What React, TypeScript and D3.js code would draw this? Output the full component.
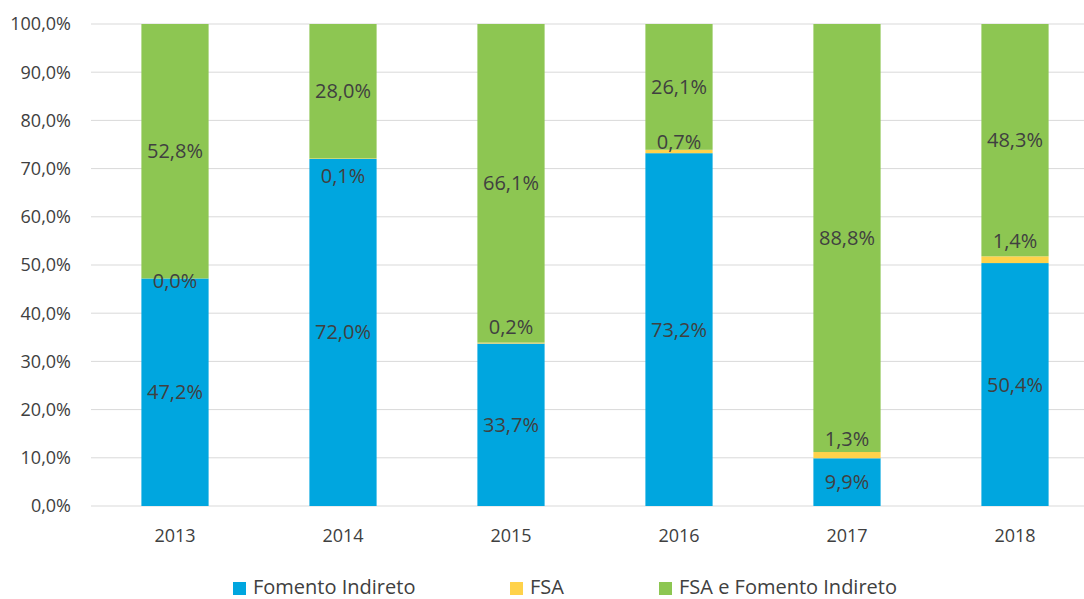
import React from 'react'
import * as d3 from 'd3'

const years = ['2013', '2014', '2015', '2016', '2017', '2018']
const fomentoIndireto = [47.2, 72.0, 33.7, 73.2, 9.9, 50.4]
const fsa = [0.0, 0.1, 0.2, 0.7, 1.3, 1.4]
const fsaEFomento = [52.8, 28.0, 66.1, 26.1, 88.8, 48.3]
const yTicks = [0, 10, 20, 30, 40, 50, 60, 70, 80, 90, 100]

const seriesNames = ['Fomento Indireto', 'FSA', 'FSA e Fomento Indireto']
const colors = ['#00a6df', '#ffd24a', '#8dc652']
// Excel nudged the tiny FSA labels off their segments (px, + is down)
const fsaLabelShift = [3, 17, -16, -9, -16, -19]

const W = 1084
const H = 599
const FONT = "'Open Sans', 'Noto Sans', sans-serif"
const fmt = (v: number) => v.toFixed(1).replace('.', ',') + '%'

export default function App() {
	const x = d3.scaleBand().domain(years).range([91, 1099]).paddingInner(0.6).paddingOuter(0.3)
	const y = d3.scaleLinear().domain([0, 100]).range([506, 24])

	const rows = years.map((yr, i) => ({ year: yr, a: fomentoIndireto[i], b: fsa[i], c: fsaEFomento[i] }))
	const stack = d3.stack<any>().keys(['a', 'b', 'c'])(rows)

	const legendX = [233, 510, 659]

	return (
		<svg width={W} height={H} style={{ position: 'absolute', left: 0, top: 0, fontFamily: FONT }}>
			<rect width={W} height={H} fill="#fff" />
			{yTicks.map(t => (
				<g key={t}>
					<line x1={91} x2={W} y1={y(t)} y2={y(t)} stroke="#d9d9d9" strokeWidth={1} />
					<text x={71} y={y(t)} dy="0.35em" textAnchor="end" fontSize={18} fill="#404040">
						{fmt(t)}
					</text>
				</g>
			))}
			{stack.map((s, si) => (
				<g key={si}>
					{s.map((d, i) => (
						<rect
							key={i}
							x={x(years[i])}
							width={x.bandwidth()}
							y={y(Math.min(d[1], 100))}
							height={y(d[0]) - y(Math.min(d[1], 100))}
							fill={colors[si]}
						/>
					))}
				</g>
			))}
			{stack.map((s, si) => (
				<g key={'l' + si}>
					{s.map((d, i) => {
						const cy = y((d[0] + Math.min(d[1], 100)) / 2) + (si === 1 ? fsaLabelShift[i] : 0)
						return (
							<text
								key={i}
								x={x(years[i])! + x.bandwidth() / 2}
								y={cy}
								dy="0.35em"
								textAnchor="middle"
								fontSize={20}
								fill="#404040"
							>
								{fmt(d.data[['a', 'b', 'c'][si]])}
							</text>
						)
					})}
				</g>
			))}
			{years.map(yr => (
				<text key={yr} x={x(yr)! + x.bandwidth() / 2} y={536} dy="0.35em" textAnchor="middle" fontSize={18} fill="#404040">
					{yr}
				</text>
			))}
			{seriesNames.map((n, i) => (
				<g key={n}>
					<rect x={legendX[i]} y={582} width={13} height={13} fill={colors[i]} />
					<text x={legendX[i] + 20} y={594} fontSize={20} fill="#404040">
						{n}
					</text>
				</g>
			))}
		</svg>
	)
}
